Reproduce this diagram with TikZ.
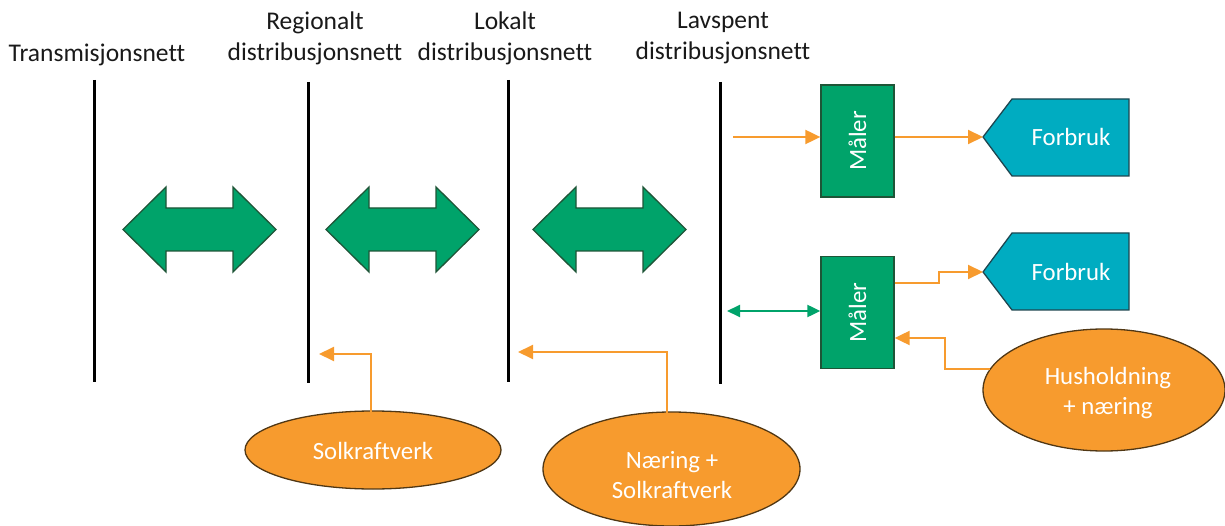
\documentclass[tikz,border=0pt]{standalone}
\usepackage{fontspec}
\setmainfont[Ligatures=CommonOff]{Carlito}
\usetikzlibrary{arrows.meta,shapes.geometric}
\definecolor{mgreen}{RGB}{0,163,106}
\definecolor{dgreen}{RGB}{30,85,55}
\definecolor{mteal}{RGB}{0,172,193}
\definecolor{dteal}{RGB}{30,70,80}
\definecolor{morange}{RGB}{247,155,46}
\definecolor{dbrown}{RGB}{80,55,20}
\definecolor{htext}{RGB}{25,25,25}
\tikzset{
  bus/.style={line width=3pt,black},
  head/.style={font=\fontsize{25.5}{31}\selectfont,align=center,text=htext},
  bigarrow/.style={fill=mgreen,draw=dgreen,line width=1.3pt,line join=miter},
  meter/.style={fill=mgreen,draw=dgreen,line width=1.3pt,minimum width=73pt,minimum height=112pt,inner sep=0pt},
  consumer/.style={fill=mteal,draw=dteal,line width=1.3pt},
  prod/.style={ellipse,fill=morange,draw=dbrown,line width=1.3pt,inner sep=0pt},
  whitetext/.style={text=white,font=\fontsize{24.8}{30}\selectfont,align=center},
  oarrow/.style={morange,line width=2pt,-{Triangle[length=15pt,width=14pt]}},
  garrow/.style={mgreen,line width=2pt,{Triangle[length=13pt,width=12pt]}-{Triangle[length=13pt,width=12pt]}}
}
\begin{document}
\begin{tikzpicture}[x=1pt,y=-1pt]
\useasboundingbox (0,0) rectangle (1225,526);
% bus lines
\draw[bus] (94,80) -- (94,382);
\draw[bus] (308,82) -- (308,383);
\draw[bus] (508,80) -- (508,382);
\draw[bus] (720,82) -- (720,384);
% headings
\node[head] (h1) at (97,55) {Transmisjonsnett};
\node[head] (h2) at (315,38) {Regionalt\\distribusjonsnett};
\node[head] (h3) at (505,38) {Lokalt\\distribusjonsnett};
\node[head] (h4) at (723,38) {Lavspent\\distribusjonsnett};
% big double arrows
\foreach \x in {123,326,533}{
  \draw[bigarrow] (\x,229.5) -- (\x+43,187) -- (\x+43,208) -- (\x+110,208) -- (\x+110,187)
     -- (\x+153,229.5) -- (\x+110,272) -- (\x+110,251) -- (\x+43,251) -- (\x+43,272) -- cycle;
}
% meters
\node[meter] (m1) at (857.5,141) {};
\node[whitetext,rotate=90] (m1t) at (m1.center) {Måler};
\node[meter] (m2) at (857.5,312.5) {};
\node[whitetext,rotate=90] (m2t) at (m2.center) {Måler};
% consumers
\draw[consumer] (983,137) -- (1012,99) -- (1129,99) -- (1129,176) -- (1012,176) -- cycle;
\coordinate (f1) at (983,137);
\node[whitetext] (f1t) at (1071,137) {Forbruk};
\draw[consumer] (983,272) -- (1012,233) -- (1129,233) -- (1129,310) -- (1012,310) -- cycle;
\coordinate (f2) at (983,272);
\node[whitetext] (f2t) at (1071,272) {Forbruk};
% producers
\node[prod,minimum width=256pt,minimum height=78pt] (s1) at (373,450) {};
\node[whitetext] (s1t) at (373,451) {Solkraftverk};
\node[prod,minimum width=257pt,minimum height=114pt] (s2) at (671.5,469) {};
\node[whitetext] (s2t) at (672,475) {Næring +\\Solkraftverk};
\node[prod,minimum width=242pt,minimum height=122pt] (s3) at (1104,390) {};
\node[whitetext] (s3t) at (1108,393) {Husholdning\\+ næring};
% connectors
\coordinate (a1) at (733,137);
\coordinate (g1) at (727,311);
\coordinate (s3w) at (990,369);
\coordinate (s1n) at (371,412);
\coordinate (s2n) at (667,413);
\coordinate (b2) at (319,354);
\coordinate (b3) at (518,352);
\draw[oarrow] (a1) -- (m1.west |- a1);
\draw[oarrow] (m1.east |- f1) -- (f1);
\draw[garrow] (g1) -- (m2.west |- g1);
\draw[oarrow] (m2.east |- 0,283) -- (939,283) -- (939,272) -- (f2);
\draw[oarrow] (s3w) -- (945,369) -- (945,338) -- (m2.east |- 0,338);
\draw[oarrow] (s1n) -- (371,354) -- (b2);
\draw[oarrow] (s2n) -- (667,352) -- (b3);
\end{tikzpicture}
\end{document}
